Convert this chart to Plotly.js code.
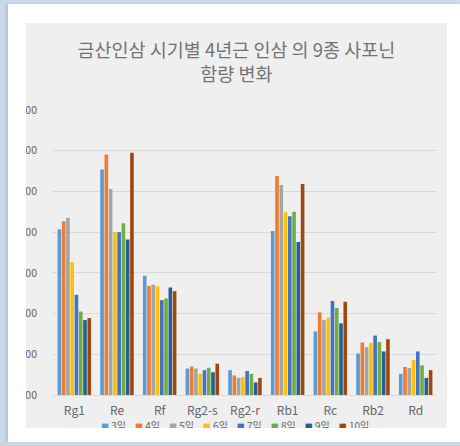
<!DOCTYPE html>
<html>
<head>
<meta charset="utf-8">
<script src="https://cdn.plot.ly/plotly-3.0.1.min.js"></script>
<style>
  html, body { margin:0; padding:0; }
  body { width:460px; height:446px; background:#c9d9ee; position:relative; overflow:hidden; }
  #white { position:absolute; left:8px; top:4px; width:452px; height:438px; background:#ffffff; box-shadow:-2px 0 3px rgba(0,0,0,0.12); }
  #bottomline { position:absolute; left:0; top:442px; width:460px; height:4px; background:#cfd5de; }
  #panel { position:absolute; left:26px; top:23px; width:421px; height:405px; overflow:hidden; background:#efefef; }
  #chart { position:absolute; left:-30px; top:0; width:451px; height:405px; }
</style>
</head>
<body>
<div id="white"></div>
<div id="bottomline"></div>
<div id="panel"><div id="chart"></div></div>
<script>
// ---- data ----
const categories = ["Rg1", "Re", "Rf", "Rg2-s", "Rg2-r", "Rb1", "Rc", "Rb2", "Rd"];
const seriesNames = ["3일", "4일", "5일", "6일", "7일", "8일", "9일", "10일"];
const day3  = [4.07, 5.54, 2.93, 0.65, 0.61, 4.03, 1.56, 1.02, 0.52];
const day4  = [4.27, 5.91, 2.68, 0.70, 0.48, 5.38, 2.03, 1.29, 0.69];
const day5  = [4.35, 5.06, 2.71, 0.65, 0.42, 5.16, 1.84, 1.18, 0.66];
const day6  = [3.26, 4.00, 2.67, 0.52, 0.44, 4.49, 1.90, 1.28, 0.86];
const day7  = [2.46, 4.00, 2.33, 0.61, 0.59, 4.39, 2.31, 1.46, 1.07];
const day8  = [2.05, 4.22, 2.37, 0.67, 0.52, 4.50, 2.14, 1.30, 0.73];
const day9  = [1.84, 3.82, 2.64, 0.56, 0.31, 3.76, 1.76, 1.07, 0.42];
const day10 = [1.89, 5.95, 2.55, 0.77, 0.42, 5.18, 2.29, 1.37, 0.61];
const seriesValues = [day3, day4, day5, day6, day7, day8, day9, day10];
const seriesColors = ["#5B9BD5", "#ED7D31", "#A5A5A5", "#FFC000", "#4472C4", "#70AD47", "#255E91", "#9E480E"];
const yTicks = [0, 1, 2, 3, 4, 5, 6, 7];

const FONT = '"Noto Sans CJK KR", "Noto Sans", sans-serif';
const TXT = '#656565';

const traces = seriesNames.map((name, i) => ({
  type: 'bar',
  name: name,
  x: categories,
  y: seriesValues[i],
  marker: { color: seriesColors[i] },
  showlegend: false,
  hoverinfo: 'x+y+name'
}));

// legend drawn as one annotation built from names and colors
const legendText = seriesNames.map((n, i) =>
  '<span style="color:' + seriesColors[i] + ';font-size:8px">■</span>\u00a0' + n
).join('\u00a0\u00a0\u00a0\u00a0');

const layout = {
  width: 451,
  height: 405,
  margin: { l: 57, r: 10, t: 87, b: 33 },
  paper_bgcolor: '#efefef',
  plot_bgcolor: '#efefef',
  font: { family: FONT, color: TXT, size: 10 },
  title: {
    text: '금산인삼 시기별 4년근 인삼 의 9종 사포닌<br>함량 변화',
    font: { family: FONT, size: 18.5, color: '#737373' },
    xref: 'container', x: 0.533, xanchor: 'center',
    yref: 'container', y: 0.915, yanchor: 'top'
  },
  barmode: 'group',
  bargap: 0.2,
  bargroupgap: 0.15,
  xaxis: {
    type: 'category',
    showgrid: false,
    showline: false,
    ticks: '',
    tickfont: { family: FONT, size: 12, color: TXT },
    ticklabelstandoff: 7,
    fixedrange: true
  },
  yaxis: {
    range: [0, 7],
    tickvals: yTicks,
    tickformat: '.2f',
    showgrid: true,
    gridcolor: '#d9d9d9',
    gridwidth: 1,
    zeroline: true,
    zerolinecolor: '#d9d9d9',
    zerolinewidth: 1,
    showline: false,
    ticks: '',
    tickfont: { family: FONT, size: 10.5, color: TXT },
    ticklabelstandoff: 15,
    fixedrange: true
  },
  annotations: [{
    xref: 'paper', yref: 'paper',
    x: 0.475, y: -0.108,
    xanchor: 'center', yanchor: 'middle',
    showarrow: false,
    text: legendText,
    font: { family: FONT, size: 10, color: TXT }
  }],
  showlegend: false
};

Plotly.newPlot('chart', traces, layout, { displayModeBar: false, staticPlot: true });
</script>
</body>
</html>
